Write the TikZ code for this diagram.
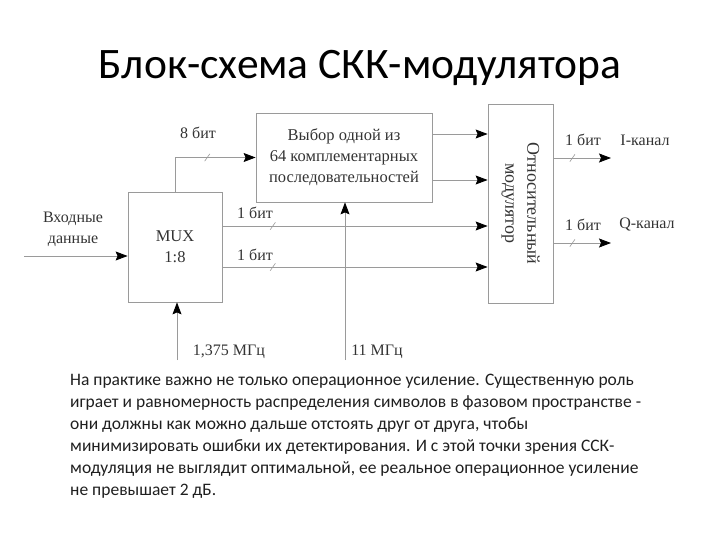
\documentclass[tikz,border=0pt]{standalone}
\usepackage{fontspec}
\setmainfont{Liberation Serif}
\newfontfamily\calib{Carlito}
\usetikzlibrary{arrows.meta,positioning}
\definecolor{LineGray}{HTML}{9A9A9A}
\definecolor{InkGray}{HTML}{333333}

\begin{document}
\begin{tikzpicture}[x=1pt,y=-1pt,
    blk/.style={draw=LineGray, line width=0.8pt, inner sep=0pt, align=center, font=\fontsize{16.5}{21}\selectfont, text=InkGray},
    lbl/.style={font=\fontsize{16}{21}\selectfont, text=InkGray, align=center, inner sep=0pt},
    arr/.style={draw=LineGray, line width=0.9pt, -{Stealth[color=black, length=12pt, width=9pt, inset=2pt]}},
    bus/.style={draw=LineGray, line width=0.6pt, inner sep=0pt, minimum width=0pt, minimum height=9pt, rotate=-35}]
    \useasboundingbox (0,0) rectangle (720,540);
    \node[font=\calib\fontsize{43.5}{48}\selectfont] (title) at (360,68) {Блок-схема СКК-модулятора};
    \node[blk, minimum width=94, minimum height=110] (mux) at (175,247) {MUX\\1:8};
    \node[blk, minimum width=176, minimum height=89] (sel) at (344,157.5) {Выбор одной из\\64 комплементарных\\последовательностей};
    \node[blk, minimum width=65, minimum height=199] (mod) at (520.5,203.5) {};
    \node[lbl, rotate=-90, font=\fontsize{18}{22}\selectfont] (modtext) at (mod.center) {Относительный\\модулятор};
    \coordinate (in) at (24,256);
    \coordinate (clkA) at (177,360);
    \coordinate (clkB) at (345,360);
    \coordinate (outI) at (611,158);
    \coordinate (outQ) at (611,243);
    \draw[arr] (in) -- (in -| mux.west);
    \draw[arr] (mux.north) |- node[bus, pos=0.7]{} (sel.west);
    \draw[arr] (sel.east |- 0,134) -- (mod.west |- 0,134);
    \draw[arr] (sel.east |- 0,180) -- (mod.west |- 0,180);
    \draw[arr] (mux.east |- 0,226) -- node[bus, pos=0.19]{} (mod.west |- 0,226);
    \draw[arr] (mux.east |- 0,267) -- node[bus, pos=0.19]{} (mod.west |- 0,267);
    \draw[arr] (clkA) -- (clkA |- mux.south);
    \draw[arr] (clkB) -- (clkB |- sel.south);
    \draw[arr] (mod.east |- outI) -- node[bus, pos=0.33]{} (outI);
    \draw[arr] (mod.east |- outQ) -- node[bus, pos=0.33]{} (outQ);
    \node[lbl] (inlbl) at (73,229) {Входные\\данные};
    \node[lbl] (b8) at (198,133) {8 бит};
    \node[lbl] (b1a) at (255,213) {1 бит};
    \node[lbl] (b1b) at (255,255) {1 бит};
    \node[lbl] (b1i) at (583,140) {1 бит};
    \node[lbl] (b1q) at (583,225) {1 бит};
    \node[lbl] (chI) at (645,140) {I-канал};
    \node[lbl] (chQ) at (647,225) {Q-канал};
    \node[lbl] (fA) at (229,352) {1,375 МГц};
    \node[lbl] (fB) at (377,352) {11 МГц};
    \node[anchor=north west, align=left, inner sep=0pt, text=InkGray!60!black, font=\calib\fontsize{17.5}{22}\selectfont] (para) at (70,374) {На практике важно не только операционное усиление. Существенную роль\\играет и равномерность распределения символов в фазовом пространстве -\\они должны как можно дальше отстоять друг от друга, чтобы\\минимизировать ошибки их детектирования. И с этой точки зрения ССК-\\модуляция не выглядит оптимальной, ее реальное операционное усиление\\не превышает 2 дБ.};
\end{tikzpicture}
\end{document}
